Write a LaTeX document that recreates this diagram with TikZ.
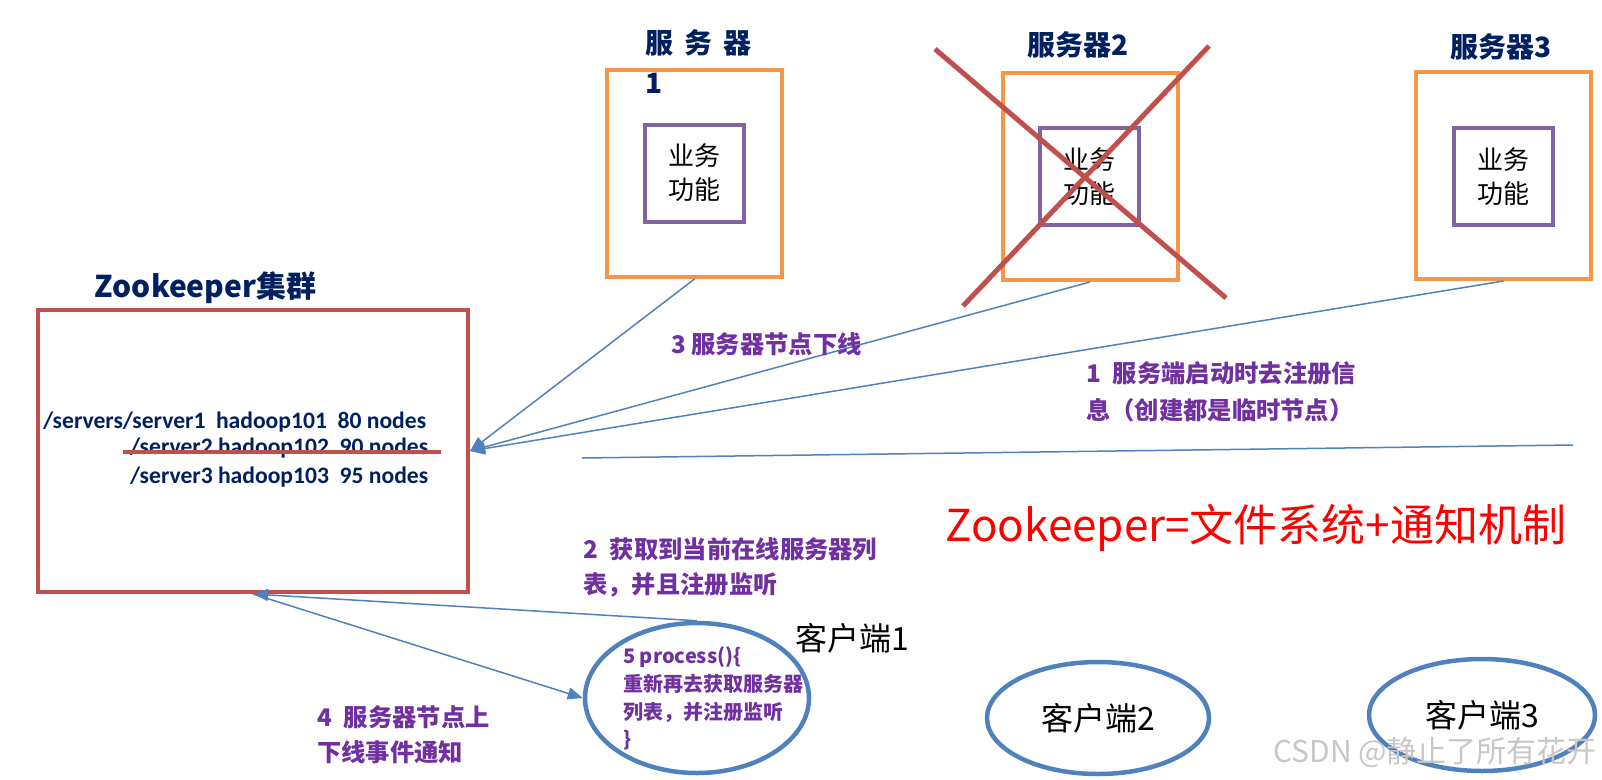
\documentclass[tikz,border=0pt]{standalone}
\usepackage{fontspec}
\setmainfont{Carlito}
\newfontfamily\cjk{Noto Sans CJK SC}
\usetikzlibrary{arrows.meta,shapes.geometric}
\definecolor{orng}{HTML}{F79646}
\definecolor{purp}{HTML}{8064A2}
\definecolor{redb}{HTML}{C0504D}
\definecolor{blu}{HTML}{4F81BD}
\definecolor{navy}{HTML}{002060}
\definecolor{ptext}{HTML}{7030A0}
\begin{document}
\begin{tikzpicture}[x=1pt,y=-1pt,
  server/.style={draw=orng,line width=4pt,minimum width=175pt,minimum height=207pt,inner sep=0pt},
  biz/.style={draw=purp,line width=4pt,minimum width=99pt,minimum height=97pt,inner sep=0pt,align=center,font=\cjk\fontsize{26}{34}\selectfont},
  title/.style={inner sep=0pt,text=navy,font=\cjk\bfseries\fontsize{28}{40}\selectfont},
  zpath/.style={inner sep=0pt,anchor=west,text=navy,font=\bfseries\fontsize{23.6}{27}\selectfont},
  plabel/.style={inner sep=0pt,anchor=west,align=left,text=ptext,font=\cjk\bfseries\fontsize{24.3}{36}\selectfont},
  client/.style={draw=blu,line width=4.5pt,ellipse,inner sep=0pt},
  ctext/.style={inner sep=0pt,font=\cjk\fontsize{32}{36}\selectfont},
  conn/.style={draw=blu,line width=1.5pt,-{Triangle[length=15pt,width=12pt]}},
  cross/.style={draw=redb,line width=5pt}
]
\useasboundingbox (0,0) rectangle (1602,779);

% servers
\node[server] (s1) at (694.5,173.5) {};
\node[server] (s2) at (1090,176.5) {};
\node[server] (s3) at (1503.5,175.5) {};
\node[biz] (b1) at (694.5,173) {业务\\功能};
\node[biz] (b2) at (1089,176.5) {业务\\功能};
\node[biz] (b3) at (1503,176.5) {业务\\功能};
\node[title,anchor=west,align=left] (t1) at (645,62) {服\hspace{11pt}务\hspace{11pt}器\\1};
\node[title] (t2) at (1078,45) {服务器2};
\node[title] (t3) at (1501,47) {服务器3};

% cross over server 2
\coordinate (xa1) at (935,49);
\coordinate (xa2) at (1226,298);
\coordinate (xb1) at (1209,46);
\coordinate (xb2) at (963,306);
\draw[cross] (xa1) -- (xa2);
\draw[cross] (xb1) -- (xb2);

% zookeeper cluster
\node[draw=redb,line width=4pt,minimum width=430pt,minimum height=282pt,inner sep=0pt] (zk) at (253,451) {};
\node[title,font=\cjk\bfseries\fontsize{30}{36}\selectfont] (zkt) at (205.5,288) {Zookeeper集群};
\node[zpath] (p1) at (43,422) {/servers/server1\hspace{10.6pt}hadoop101\hspace{10.6pt}80 nodes};
\node[zpath] (p2) at (130,448) {/server2 hadoop102\hspace{10.6pt}90 nodes};
\node[zpath] (p3) at (130,477) {/server3 hadoop103\hspace{10.6pt}95 nodes};
\coordinate (sa) at (123,452);
\coordinate (sb) at (441,452);
\draw[draw=redb,line width=4pt] (sa) -- (sb);

% connectors from servers
\draw[conn] (s1.south) -- (zk.east);
\draw[conn] (s2.south) -- (zk.east);
\draw[conn] (s3.south) -- (zk.east);

% separator line
\coordinate (la) at (582,458);
\coordinate (lb) at (1573,445);
\draw[draw=blu,line width=1.5pt] (la) -- (lb);

% labels
\node[plabel] (l3) at (671,344) {3 服务器节点下线};
\node[plabel,font=\cjk\bfseries\fontsize{24.3}{37}\selectfont] (l1) at (1086,391.5) {1\hspace{12pt}服务端启动时去注册信\\息（创建都是临时节点）};
\node[plabel,font=\cjk\bfseries\fontsize{24.3}{35}\selectfont] (l2) at (583,567.5) {2\hspace{12pt}获取到当前在线服务器列\\表，并且注册监听};
\node[plabel,font=\cjk\bfseries\fontsize{24.3}{35}\selectfont] (l4) at (317,734.5) {4\hspace{12pt}服务器节点上\\下线事件通知};

\node[inner sep=0pt,text=red,font=\cjk\fontsize{44}{48}\selectfont] (zf) at (1256,528) {Zookeeper=文件系统+通知机制};

% clients
\node[client,minimum width=224pt,minimum height=150pt] (c1) at (697,698) {};
\node[plabel,font=\cjk\bfseries\fontsize{20}{27.7}\selectfont] (c1t) at (623,698.5) {5 process()\{\\重新再去获取服务器\\列表，并注册监听\\\}};
\node[ctext] (c1n) at (852,638) {客户端1};
\node[client,minimum width=222pt,minimum height=112pt,font=\cjk\fontsize{32}{36}\selectfont] (c2) at (1098,718) {客户端2};
\node[client,minimum width=226pt,minimum height=112pt,font=\cjk\fontsize{32}{36}\selectfont] (c3) at (1482,715) {客户端3};

\draw[conn] (c1.north) -- (zk.south);
\draw[conn] (zk.south) -- (c1.west);

% watermark
\node[inner sep=0pt,anchor=east,text=black!22,font=\cjk\fontsize{30}{32}\selectfont] (wm) at (1597,752) {CSDN @静止了所有花开};
\end{tikzpicture}
\end{document}
